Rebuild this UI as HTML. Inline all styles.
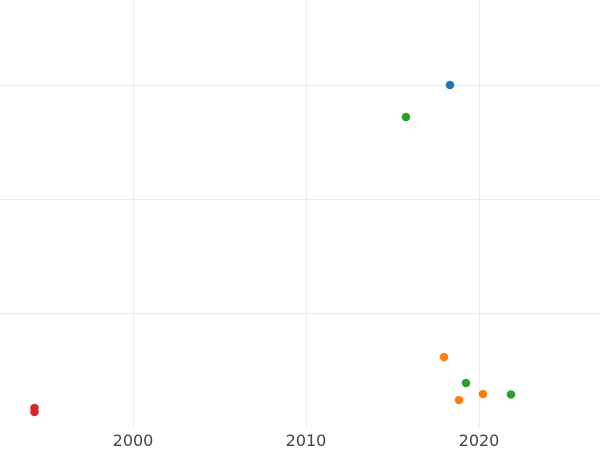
<!DOCTYPE html>
<html><head><style>body{margin:0;background:#fff}svg{display:block}</style></head><body>
<svg width="600" height="450" xmlns="http://www.w3.org/2000/svg">
<g stroke="#ebebeb" stroke-width="1">
<line x1="0" y1="85.5" x2="600" y2="85.5"/><line x1="0" y1="199.5" x2="600" y2="199.5"/><line x1="0" y1="313.5" x2="600" y2="313.5"/>
<line x1="133.5" y1="0" x2="133.5" y2="427"/><line x1="306.5" y1="0" x2="306.5" y2="427"/><line x1="479.5" y1="0" x2="479.5" y2="427"/>
</g>
<g font-family="'DejaVu Sans','Liberation Sans',sans-serif" font-size="16" fill="#444" text-anchor="middle">
<text x="133" y="446">2000</text><text x="306" y="446">2010</text><text x="479" y="446">2020</text>
</g>
<g>
<circle cx="450" cy="85" r="4.3" fill="#1f77b4"/>
<circle cx="406" cy="117" r="4.3" fill="#2ca02c"/>
<circle cx="444" cy="357" r="4.3" fill="#ff7f0e"/>
<circle cx="466" cy="383" r="4.3" fill="#2ca02c"/>
<circle cx="459" cy="400" r="4.3" fill="#ff7f0e"/>
<circle cx="483" cy="394" r="4.3" fill="#ff7f0e"/>
<circle cx="511" cy="394.5" r="4.3" fill="#2ca02c"/>
<circle cx="34.5" cy="408" r="4.3" fill="#d62728"/>
<circle cx="34.5" cy="412" r="4.3" fill="#d62728"/>
</g>
</svg>
</body></html>
